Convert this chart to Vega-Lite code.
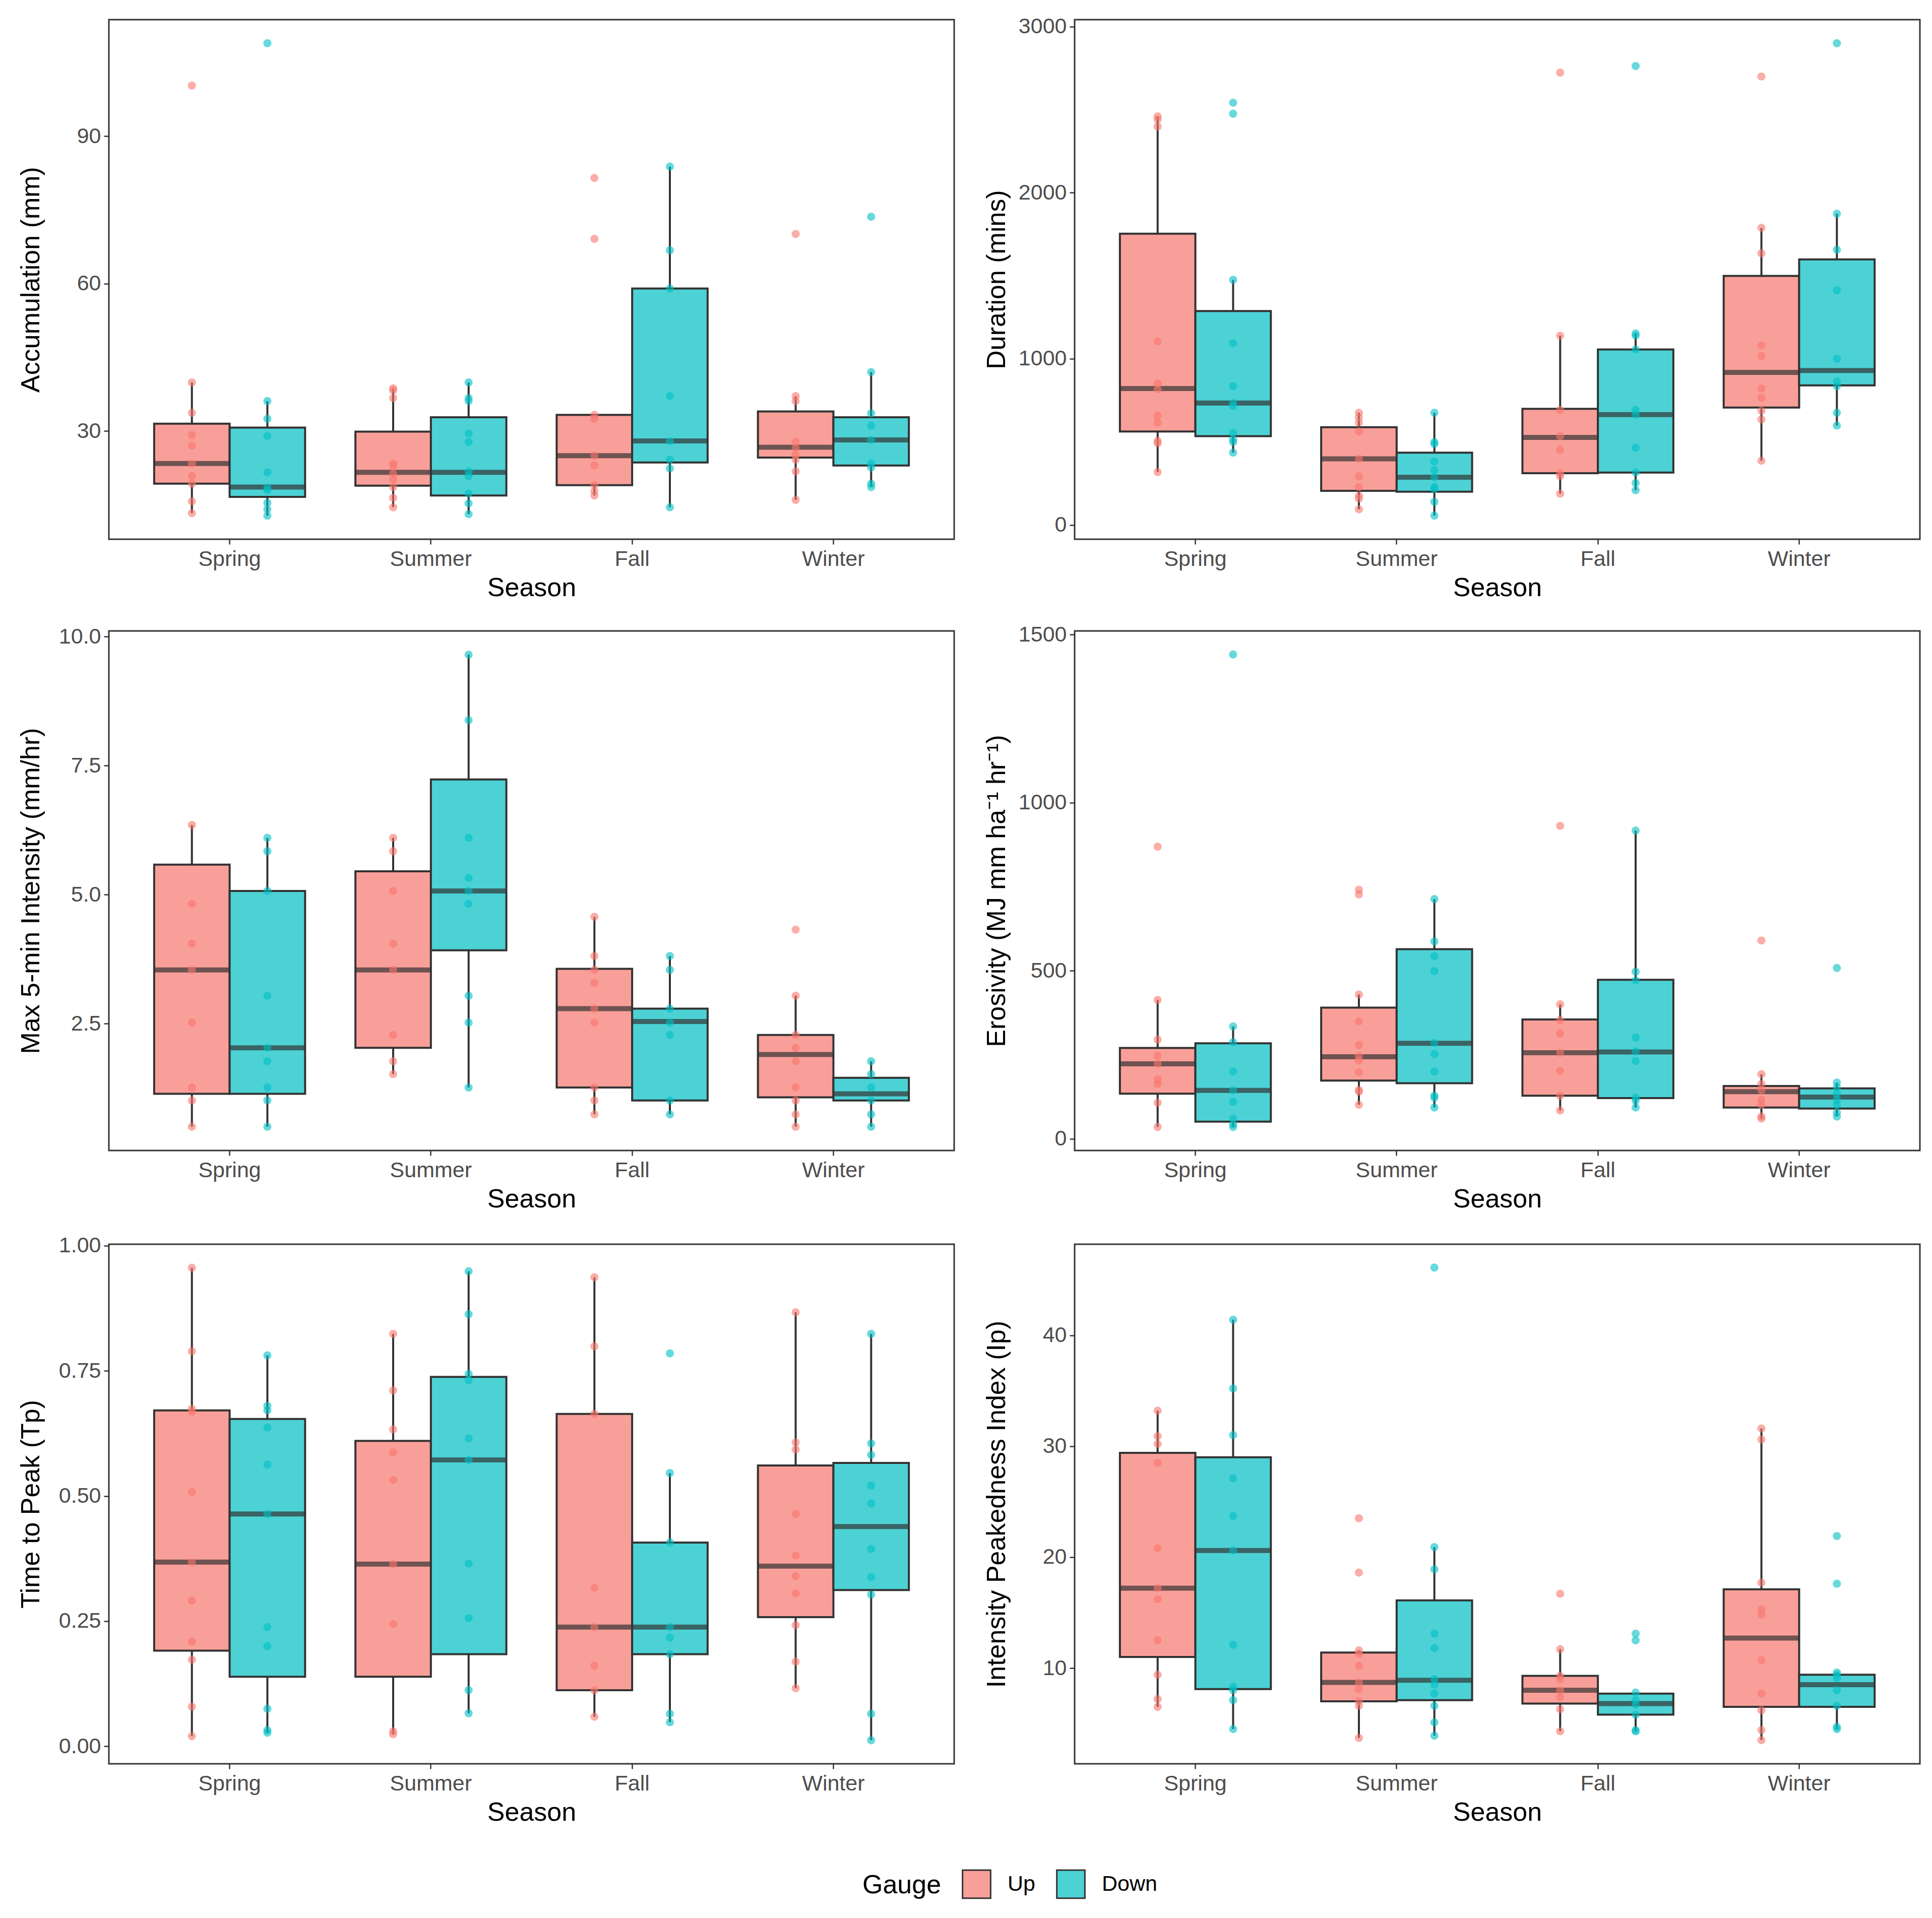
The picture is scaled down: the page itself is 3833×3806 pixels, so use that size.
{
"$schema": "https://vega.github.io/schema/vega-lite/v6.json",
"background": "white",
"padding": {"left": 33, "top": 30, "right": 27, "bottom": 20},
"datasets": {
"boxes": [
{"panel":"acc","Season":"Spring","Gauge":"Up","lower":13.3,"q1":19.3,"median":23.4,"q3":31.5,"upper":39.9},
{"panel":"acc","Season":"Spring","Gauge":"Down","lower":12.8,"q1":16.6,"median":18.6,"q3":30.7,"upper":36.1},
{"panel":"acc","Season":"Summer","Gauge":"Up","lower":14.5,"q1":18.9,"median":21.6,"q3":29.9,"upper":38.7},
{"panel":"acc","Season":"Summer","Gauge":"Down","lower":13.1,"q1":16.9,"median":21.6,"q3":32.8,"upper":39.9},
{"panel":"acc","Season":"Fall","Gauge":"Up","lower":16.9,"q1":19.0,"median":25.0,"q3":33.3,"upper":33.3},
{"panel":"acc","Season":"Fall","Gauge":"Down","lower":14.5,"q1":23.6,"median":28.0,"q3":59.0,"upper":83.8},
{"panel":"acc","Season":"Winter","Gauge":"Up","lower":16.0,"q1":24.6,"median":26.7,"q3":34.0,"upper":37.1},
{"panel":"acc","Season":"Winter","Gauge":"Down","lower":18.6,"q1":23.0,"median":28.2,"q3":32.8,"upper":42.0},
{"panel":"dur","Season":"Spring","Gauge":"Up","lower":318,"q1":562,"median":821,"q3":1753,"upper":2459},
{"panel":"dur","Season":"Spring","Gauge":"Down","lower":435,"q1":534,"median":734,"q3":1287,"upper":1475},
{"panel":"dur","Season":"Summer","Gauge":"Up","lower":94,"q1":205,"median":398,"q3":588,"upper":675},
{"panel":"dur","Season":"Summer","Gauge":"Down","lower":56,"q1":200,"median":287,"q3":435,"upper":675},
{"panel":"dur","Season":"Fall","Gauge":"Up","lower":188,"q1":311,"median":527,"q3":699,"upper":1139},
{"panel":"dur","Season":"Fall","Gauge":"Down","lower":209,"q1":315,"median":664,"q3":1056,"upper":1153},
{"panel":"dur","Season":"Winter","Gauge":"Up","lower":386,"q1":706,"median":918,"q3":1499,"upper":1788},
{"panel":"dur","Season":"Winter","Gauge":"Down","lower":598,"q1":840,"median":929,"q3":1598,"upper":1873},
{"panel":"int","Season":"Spring","Gauge":"Up","lower":0.50,"q1":1.14,"median":3.54,"q3":5.58,"upper":6.35},
{"panel":"int","Season":"Spring","Gauge":"Down","lower":0.50,"q1":1.14,"median":2.03,"q3":5.07,"upper":6.10},
{"panel":"int","Season":"Summer","Gauge":"Up","lower":1.52,"q1":2.03,"median":3.54,"q3":5.45,"upper":6.10},
{"panel":"int","Season":"Summer","Gauge":"Down","lower":1.26,"q1":3.92,"median":5.07,"q3":7.23,"upper":9.65},
{"panel":"int","Season":"Fall","Gauge":"Up","lower":0.74,"q1":1.26,"median":2.79,"q3":3.56,"upper":4.57},
{"panel":"int","Season":"Fall","Gauge":"Down","lower":0.74,"q1":1.01,"median":2.54,"q3":2.79,"upper":3.81},
{"panel":"int","Season":"Winter","Gauge":"Up","lower":0.50,"q1":1.07,"median":1.90,"q3":2.28,"upper":3.04},
{"panel":"int","Season":"Winter","Gauge":"Down","lower":0.50,"q1":1.01,"median":1.14,"q3":1.45,"upper":1.77},
{"panel":"ero","Season":"Spring","Gauge":"Up","lower":35,"q1":134,"median":223,"q3":270,"upper":413},
{"panel":"ero","Season":"Spring","Gauge":"Down","lower":35,"q1":51,"median":144,"q3":284,"upper":334},
{"panel":"ero","Season":"Summer","Gauge":"Up","lower":101,"q1":173,"median":244,"q3":390,"upper":429},
{"panel":"ero","Season":"Summer","Gauge":"Down","lower":93,"q1":165,"median":284,"q3":564,"upper":713},
{"panel":"ero","Season":"Fall","Gauge":"Up","lower":84,"q1":128,"median":256,"q3":355,"upper":400},
{"panel":"ero","Season":"Fall","Gauge":"Down","lower":93,"q1":121,"median":258,"q3":473,"upper":917},
{"panel":"ero","Season":"Winter","Gauge":"Up","lower":60,"q1":93,"median":140,"q3":157,"upper":192},
{"panel":"ero","Season":"Winter","Gauge":"Down","lower":66,"q1":90,"median":124,"q3":150,"upper":167},
{"panel":"tp","Season":"Spring","Gauge":"Up","lower":0.020,"q1":0.191,"median":0.368,"q3":0.671,"upper":0.956},
{"panel":"tp","Season":"Spring","Gauge":"Down","lower":0.027,"q1":0.139,"median":0.464,"q3":0.654,"upper":0.781},
{"panel":"tp","Season":"Summer","Gauge":"Up","lower":0.024,"q1":0.139,"median":0.364,"q3":0.610,"upper":0.824},
{"panel":"tp","Season":"Summer","Gauge":"Down","lower":0.066,"q1":0.184,"median":0.572,"q3":0.738,"upper":0.949},
{"panel":"tp","Season":"Fall","Gauge":"Up","lower":0.059,"q1":0.112,"median":0.238,"q3":0.664,"upper":0.937},
{"panel":"tp","Season":"Fall","Gauge":"Down","lower":0.048,"q1":0.184,"median":0.238,"q3":0.407,"upper":0.546},
{"panel":"tp","Season":"Winter","Gauge":"Up","lower":0.116,"q1":0.258,"median":0.360,"q3":0.561,"upper":0.867},
{"panel":"tp","Season":"Winter","Gauge":"Down","lower":0.012,"q1":0.312,"median":0.439,"q3":0.566,"upper":0.824},
{"panel":"ip","Season":"Spring","Gauge":"Up","lower":6.5,"q1":11.0,"median":17.2,"q3":29.4,"upper":33.2},
{"panel":"ip","Season":"Spring","Gauge":"Down","lower":4.5,"q1":8.1,"median":20.6,"q3":29.0,"upper":41.4},
{"panel":"ip","Season":"Summer","Gauge":"Up","lower":3.7,"q1":7.0,"median":8.7,"q3":11.4,"upper":11.6},
{"panel":"ip","Season":"Summer","Gauge":"Down","lower":3.9,"q1":7.1,"median":8.9,"q3":16.1,"upper":20.9},
{"panel":"ip","Season":"Fall","Gauge":"Up","lower":4.3,"q1":6.8,"median":8.0,"q3":9.3,"upper":11.7},
{"panel":"ip","Season":"Fall","Gauge":"Down","lower":4.3,"q1":5.8,"median":6.8,"q3":7.7,"upper":7.8},
{"panel":"ip","Season":"Winter","Gauge":"Up","lower":3.5,"q1":6.5,"median":12.7,"q3":17.1,"upper":31.6},
{"panel":"ip","Season":"Winter","Gauge":"Down","lower":4.5,"q1":6.5,"median":8.5,"q3":9.4,"upper":9.6}
],
"points": [
{"panel":"acc","Season":"Spring","Gauge":"Up","value":100.3},{"panel":"acc","Season":"Spring","Gauge":"Up","value":39.9},{"panel":"acc","Season":"Spring","Gauge":"Up","value":33.7},{"panel":"acc","Season":"Spring","Gauge":"Up","value":29.2},{"panel":"acc","Season":"Spring","Gauge":"Up","value":27.0},{"panel":"acc","Season":"Spring","Gauge":"Up","value":23.4},{"panel":"acc","Season":"Spring","Gauge":"Up","value":20.9},{"panel":"acc","Season":"Spring","Gauge":"Up","value":19.3},{"panel":"acc","Season":"Spring","Gauge":"Up","value":15.7},{"panel":"acc","Season":"Spring","Gauge":"Up","value":13.3},
{"panel":"acc","Season":"Spring","Gauge":"Down","value":108.9},{"panel":"acc","Season":"Spring","Gauge":"Down","value":36.1},{"panel":"acc","Season":"Spring","Gauge":"Down","value":32.5},{"panel":"acc","Season":"Spring","Gauge":"Down","value":29.0},{"panel":"acc","Season":"Spring","Gauge":"Down","value":21.6},{"panel":"acc","Season":"Spring","Gauge":"Down","value":18.5},{"panel":"acc","Season":"Spring","Gauge":"Down","value":18.0},{"panel":"acc","Season":"Spring","Gauge":"Down","value":15.4},{"panel":"acc","Season":"Spring","Gauge":"Down","value":14.1},{"panel":"acc","Season":"Spring","Gauge":"Down","value":12.8},
{"panel":"acc","Season":"Summer","Gauge":"Up","value":38.7},{"panel":"acc","Season":"Summer","Gauge":"Up","value":38.3},{"panel":"acc","Season":"Summer","Gauge":"Up","value":36.7},{"panel":"acc","Season":"Summer","Gauge":"Up","value":23.4},{"panel":"acc","Season":"Summer","Gauge":"Up","value":22.8},{"panel":"acc","Season":"Summer","Gauge":"Up","value":21.4},{"panel":"acc","Season":"Summer","Gauge":"Up","value":20.2},{"panel":"acc","Season":"Summer","Gauge":"Up","value":18.6},{"panel":"acc","Season":"Summer","Gauge":"Up","value":16.4},{"panel":"acc","Season":"Summer","Gauge":"Up","value":14.5},
{"panel":"acc","Season":"Summer","Gauge":"Down","value":39.9},{"panel":"acc","Season":"Summer","Gauge":"Down","value":36.7},{"panel":"acc","Season":"Summer","Gauge":"Down","value":36.1},{"panel":"acc","Season":"Summer","Gauge":"Down","value":29.5},{"panel":"acc","Season":"Summer","Gauge":"Down","value":27.8},{"panel":"acc","Season":"Summer","Gauge":"Down","value":21.8},{"panel":"acc","Season":"Summer","Gauge":"Down","value":20.8},{"panel":"acc","Season":"Summer","Gauge":"Down","value":17.3},{"panel":"acc","Season":"Summer","Gauge":"Down","value":15.3},{"panel":"acc","Season":"Summer","Gauge":"Down","value":13.1},
{"panel":"acc","Season":"Fall","Gauge":"Up","value":81.5},{"panel":"acc","Season":"Fall","Gauge":"Up","value":69.1},{"panel":"acc","Season":"Fall","Gauge":"Up","value":33.3},{"panel":"acc","Season":"Fall","Gauge":"Up","value":32.5},{"panel":"acc","Season":"Fall","Gauge":"Up","value":25.0},{"panel":"acc","Season":"Fall","Gauge":"Up","value":23.0},{"panel":"acc","Season":"Fall","Gauge":"Up","value":19.0},{"panel":"acc","Season":"Fall","Gauge":"Up","value":17.8},{"panel":"acc","Season":"Fall","Gauge":"Up","value":16.9},
{"panel":"acc","Season":"Fall","Gauge":"Down","value":83.8},{"panel":"acc","Season":"Fall","Gauge":"Down","value":66.8},{"panel":"acc","Season":"Fall","Gauge":"Down","value":59.0},{"panel":"acc","Season":"Fall","Gauge":"Down","value":37.1},{"panel":"acc","Season":"Fall","Gauge":"Down","value":27.9},{"panel":"acc","Season":"Fall","Gauge":"Down","value":24.2},{"panel":"acc","Season":"Fall","Gauge":"Down","value":22.4},{"panel":"acc","Season":"Fall","Gauge":"Down","value":14.5},
{"panel":"acc","Season":"Winter","Gauge":"Up","value":70.1},{"panel":"acc","Season":"Winter","Gauge":"Up","value":37.1},{"panel":"acc","Season":"Winter","Gauge":"Up","value":36.1},{"panel":"acc","Season":"Winter","Gauge":"Up","value":27.8},{"panel":"acc","Season":"Winter","Gauge":"Up","value":26.6},{"panel":"acc","Season":"Winter","Gauge":"Up","value":25.2},{"panel":"acc","Season":"Winter","Gauge":"Up","value":24.2},{"panel":"acc","Season":"Winter","Gauge":"Up","value":21.8},{"panel":"acc","Season":"Winter","Gauge":"Up","value":16.0},
{"panel":"acc","Season":"Winter","Gauge":"Down","value":73.6},{"panel":"acc","Season":"Winter","Gauge":"Down","value":42.0},{"panel":"acc","Season":"Winter","Gauge":"Down","value":33.6},{"panel":"acc","Season":"Winter","Gauge":"Down","value":31.1},{"panel":"acc","Season":"Winter","Gauge":"Down","value":28.2},{"panel":"acc","Season":"Winter","Gauge":"Down","value":23.4},{"panel":"acc","Season":"Winter","Gauge":"Down","value":22.6},{"panel":"acc","Season":"Winter","Gauge":"Down","value":19.3},{"panel":"acc","Season":"Winter","Gauge":"Down","value":18.6},
{"panel":"dur","Season":"Spring","Gauge":"Up","value":2459},{"panel":"dur","Season":"Spring","Gauge":"Up","value":2440},{"panel":"dur","Season":"Spring","Gauge":"Up","value":2398},{"panel":"dur","Season":"Spring","Gauge":"Up","value":1104},{"panel":"dur","Season":"Spring","Gauge":"Up","value":852},{"panel":"dur","Season":"Spring","Gauge":"Up","value":816},{"panel":"dur","Season":"Spring","Gauge":"Up","value":659},{"panel":"dur","Season":"Spring","Gauge":"Up","value":616},{"panel":"dur","Season":"Spring","Gauge":"Up","value":506},{"panel":"dur","Season":"Spring","Gauge":"Up","value":492},{"panel":"dur","Season":"Spring","Gauge":"Up","value":318},
{"panel":"dur","Season":"Spring","Gauge":"Down","value":2541},{"panel":"dur","Season":"Spring","Gauge":"Down","value":2475},{"panel":"dur","Season":"Spring","Gauge":"Down","value":1475},{"panel":"dur","Season":"Spring","Gauge":"Down","value":1094},{"panel":"dur","Season":"Spring","Gauge":"Down","value":835},{"panel":"dur","Season":"Spring","Gauge":"Down","value":734},{"panel":"dur","Season":"Spring","Gauge":"Down","value":715},{"panel":"dur","Season":"Spring","Gauge":"Down","value":553},{"panel":"dur","Season":"Spring","Gauge":"Down","value":515},{"panel":"dur","Season":"Spring","Gauge":"Down","value":499},{"panel":"dur","Season":"Spring","Gauge":"Down","value":435},
{"panel":"dur","Season":"Summer","Gauge":"Up","value":675},{"panel":"dur","Season":"Summer","Gauge":"Up","value":647},{"panel":"dur","Season":"Summer","Gauge":"Up","value":616},{"panel":"dur","Season":"Summer","Gauge":"Up","value":562},{"panel":"dur","Season":"Summer","Gauge":"Up","value":398},{"panel":"dur","Season":"Summer","Gauge":"Up","value":292},{"panel":"dur","Season":"Summer","Gauge":"Up","value":228},{"panel":"dur","Season":"Summer","Gauge":"Up","value":176},{"panel":"dur","Season":"Summer","Gauge":"Up","value":158},{"panel":"dur","Season":"Summer","Gauge":"Up","value":94},
{"panel":"dur","Season":"Summer","Gauge":"Down","value":675},{"panel":"dur","Season":"Summer","Gauge":"Down","value":499},{"panel":"dur","Season":"Summer","Gauge":"Down","value":487},{"panel":"dur","Season":"Summer","Gauge":"Down","value":381},{"panel":"dur","Season":"Summer","Gauge":"Down","value":329},{"panel":"dur","Season":"Summer","Gauge":"Down","value":287},{"panel":"dur","Season":"Summer","Gauge":"Down","value":228},{"panel":"dur","Season":"Summer","Gauge":"Down","value":216},{"panel":"dur","Season":"Summer","Gauge":"Down","value":139},{"panel":"dur","Season":"Summer","Gauge":"Down","value":56},
{"panel":"dur","Season":"Fall","Gauge":"Up","value":2722},{"panel":"dur","Season":"Fall","Gauge":"Up","value":1139},{"panel":"dur","Season":"Fall","Gauge":"Up","value":692},{"panel":"dur","Season":"Fall","Gauge":"Up","value":534},{"panel":"dur","Season":"Fall","Gauge":"Up","value":452},{"panel":"dur","Season":"Fall","Gauge":"Up","value":311},{"panel":"dur","Season":"Fall","Gauge":"Up","value":294},{"panel":"dur","Season":"Fall","Gauge":"Up","value":188},
{"panel":"dur","Season":"Fall","Gauge":"Down","value":2762},{"panel":"dur","Season":"Fall","Gauge":"Down","value":1153},{"panel":"dur","Season":"Fall","Gauge":"Down","value":1139},{"panel":"dur","Season":"Fall","Gauge":"Down","value":1056},{"panel":"dur","Season":"Fall","Gauge":"Down","value":692},{"panel":"dur","Season":"Fall","Gauge":"Down","value":664},{"panel":"dur","Season":"Fall","Gauge":"Down","value":464},{"panel":"dur","Season":"Fall","Gauge":"Down","value":315},{"panel":"dur","Season":"Fall","Gauge":"Down","value":252},{"panel":"dur","Season":"Fall","Gauge":"Down","value":209},
{"panel":"dur","Season":"Winter","Gauge":"Up","value":2699},{"panel":"dur","Season":"Winter","Gauge":"Up","value":1788},{"panel":"dur","Season":"Winter","Gauge":"Up","value":1635},{"panel":"dur","Season":"Winter","Gauge":"Up","value":1080},{"panel":"dur","Season":"Winter","Gauge":"Up","value":1016},{"panel":"dur","Season":"Winter","Gauge":"Up","value":821},{"panel":"dur","Season":"Winter","Gauge":"Up","value":765},{"panel":"dur","Season":"Winter","Gauge":"Up","value":687},{"panel":"dur","Season":"Winter","Gauge":"Up","value":635},{"panel":"dur","Season":"Winter","Gauge":"Up","value":386},
{"panel":"dur","Season":"Winter","Gauge":"Down","value":2899},{"panel":"dur","Season":"Winter","Gauge":"Down","value":1873},{"panel":"dur","Season":"Winter","Gauge":"Down","value":1656},{"panel":"dur","Season":"Winter","Gauge":"Down","value":1412},{"panel":"dur","Season":"Winter","Gauge":"Down","value":1000},{"panel":"dur","Season":"Winter","Gauge":"Down","value":864},{"panel":"dur","Season":"Winter","Gauge":"Down","value":835},{"panel":"dur","Season":"Winter","Gauge":"Down","value":675},{"panel":"dur","Season":"Winter","Gauge":"Down","value":598},
{"panel":"int","Season":"Spring","Gauge":"Up","value":6.35},{"panel":"int","Season":"Spring","Gauge":"Up","value":4.82},{"panel":"int","Season":"Spring","Gauge":"Up","value":4.05},{"panel":"int","Season":"Spring","Gauge":"Up","value":3.54},{"panel":"int","Season":"Spring","Gauge":"Up","value":2.52},{"panel":"int","Season":"Spring","Gauge":"Up","value":1.26},{"panel":"int","Season":"Spring","Gauge":"Up","value":1.01},{"panel":"int","Season":"Spring","Gauge":"Up","value":0.50},
{"panel":"int","Season":"Spring","Gauge":"Down","value":6.10},{"panel":"int","Season":"Spring","Gauge":"Down","value":5.84},{"panel":"int","Season":"Spring","Gauge":"Down","value":5.07},{"panel":"int","Season":"Spring","Gauge":"Down","value":3.04},{"panel":"int","Season":"Spring","Gauge":"Down","value":2.03},{"panel":"int","Season":"Spring","Gauge":"Down","value":1.77},{"panel":"int","Season":"Spring","Gauge":"Down","value":1.26},{"panel":"int","Season":"Spring","Gauge":"Down","value":1.01},{"panel":"int","Season":"Spring","Gauge":"Down","value":0.50},
{"panel":"int","Season":"Summer","Gauge":"Up","value":6.10},{"panel":"int","Season":"Summer","Gauge":"Up","value":5.84},{"panel":"int","Season":"Summer","Gauge":"Up","value":5.07},{"panel":"int","Season":"Summer","Gauge":"Up","value":4.05},{"panel":"int","Season":"Summer","Gauge":"Up","value":3.54},{"panel":"int","Season":"Summer","Gauge":"Up","value":2.28},{"panel":"int","Season":"Summer","Gauge":"Up","value":1.77},{"panel":"int","Season":"Summer","Gauge":"Up","value":1.52},
{"panel":"int","Season":"Summer","Gauge":"Down","value":9.65},{"panel":"int","Season":"Summer","Gauge":"Down","value":8.38},{"panel":"int","Season":"Summer","Gauge":"Down","value":6.10},{"panel":"int","Season":"Summer","Gauge":"Down","value":5.32},{"panel":"int","Season":"Summer","Gauge":"Down","value":5.07},{"panel":"int","Season":"Summer","Gauge":"Down","value":4.82},{"panel":"int","Season":"Summer","Gauge":"Down","value":3.04},{"panel":"int","Season":"Summer","Gauge":"Down","value":2.52},{"panel":"int","Season":"Summer","Gauge":"Down","value":1.26},
{"panel":"int","Season":"Fall","Gauge":"Up","value":4.57},{"panel":"int","Season":"Fall","Gauge":"Up","value":3.81},{"panel":"int","Season":"Fall","Gauge":"Up","value":3.54},{"panel":"int","Season":"Fall","Gauge":"Up","value":3.29},{"panel":"int","Season":"Fall","Gauge":"Up","value":2.79},{"panel":"int","Season":"Fall","Gauge":"Up","value":2.52},{"panel":"int","Season":"Fall","Gauge":"Up","value":1.26},{"panel":"int","Season":"Fall","Gauge":"Up","value":1.01},{"panel":"int","Season":"Fall","Gauge":"Up","value":0.74},
{"panel":"int","Season":"Fall","Gauge":"Down","value":3.81},{"panel":"int","Season":"Fall","Gauge":"Down","value":3.54},{"panel":"int","Season":"Fall","Gauge":"Down","value":2.79},{"panel":"int","Season":"Fall","Gauge":"Down","value":2.52},{"panel":"int","Season":"Fall","Gauge":"Down","value":2.28},{"panel":"int","Season":"Fall","Gauge":"Down","value":1.01},{"panel":"int","Season":"Fall","Gauge":"Down","value":0.74},
{"panel":"int","Season":"Winter","Gauge":"Up","value":4.32},{"panel":"int","Season":"Winter","Gauge":"Up","value":3.04},{"panel":"int","Season":"Winter","Gauge":"Up","value":2.28},{"panel":"int","Season":"Winter","Gauge":"Up","value":2.03},{"panel":"int","Season":"Winter","Gauge":"Up","value":1.77},{"panel":"int","Season":"Winter","Gauge":"Up","value":1.26},{"panel":"int","Season":"Winter","Gauge":"Up","value":1.01},{"panel":"int","Season":"Winter","Gauge":"Up","value":0.74},{"panel":"int","Season":"Winter","Gauge":"Up","value":0.50},
{"panel":"int","Season":"Winter","Gauge":"Down","value":1.77},{"panel":"int","Season":"Winter","Gauge":"Down","value":1.52},{"panel":"int","Season":"Winter","Gauge":"Down","value":1.26},{"panel":"int","Season":"Winter","Gauge":"Down","value":1.01},{"panel":"int","Season":"Winter","Gauge":"Down","value":0.74},{"panel":"int","Season":"Winter","Gauge":"Down","value":0.50},
{"panel":"ero","Season":"Spring","Gauge":"Up","value":869},{"panel":"ero","Season":"Spring","Gauge":"Up","value":413},{"panel":"ero","Season":"Spring","Gauge":"Up","value":295},{"panel":"ero","Season":"Spring","Gauge":"Up","value":247},{"panel":"ero","Season":"Spring","Gauge":"Up","value":223},{"panel":"ero","Season":"Spring","Gauge":"Up","value":177},{"panel":"ero","Season":"Spring","Gauge":"Up","value":163},{"panel":"ero","Season":"Spring","Gauge":"Up","value":107},{"panel":"ero","Season":"Spring","Gauge":"Up","value":35},
{"panel":"ero","Season":"Spring","Gauge":"Down","value":1441},{"panel":"ero","Season":"Spring","Gauge":"Down","value":334},{"panel":"ero","Season":"Spring","Gauge":"Down","value":287},{"panel":"ero","Season":"Spring","Gauge":"Down","value":200},{"panel":"ero","Season":"Spring","Gauge":"Down","value":144},{"panel":"ero","Season":"Spring","Gauge":"Down","value":110},{"panel":"ero","Season":"Spring","Gauge":"Down","value":60},{"panel":"ero","Season":"Spring","Gauge":"Down","value":43},{"panel":"ero","Season":"Spring","Gauge":"Down","value":35},
{"panel":"ero","Season":"Summer","Gauge":"Up","value":741},{"panel":"ero","Season":"Summer","Gauge":"Up","value":727},{"panel":"ero","Season":"Summer","Gauge":"Up","value":429},{"panel":"ero","Season":"Summer","Gauge":"Up","value":349},{"panel":"ero","Season":"Summer","Gauge":"Up","value":279},{"panel":"ero","Season":"Summer","Gauge":"Up","value":247},{"panel":"ero","Season":"Summer","Gauge":"Up","value":233},{"panel":"ero","Season":"Summer","Gauge":"Up","value":198},{"panel":"ero","Season":"Summer","Gauge":"Up","value":145},{"panel":"ero","Season":"Summer","Gauge":"Up","value":140},{"panel":"ero","Season":"Summer","Gauge":"Up","value":101},
{"panel":"ero","Season":"Summer","Gauge":"Down","value":713},{"panel":"ero","Season":"Summer","Gauge":"Down","value":587},{"panel":"ero","Season":"Summer","Gauge":"Down","value":543},{"panel":"ero","Season":"Summer","Gauge":"Down","value":499},{"panel":"ero","Season":"Summer","Gauge":"Down","value":285},{"panel":"ero","Season":"Summer","Gauge":"Down","value":252},{"panel":"ero","Season":"Summer","Gauge":"Down","value":200},{"panel":"ero","Season":"Summer","Gauge":"Down","value":128},{"panel":"ero","Season":"Summer","Gauge":"Down","value":122},{"panel":"ero","Season":"Summer","Gauge":"Down","value":93},
{"panel":"ero","Season":"Fall","Gauge":"Up","value":931},{"panel":"ero","Season":"Fall","Gauge":"Up","value":400},{"panel":"ero","Season":"Fall","Gauge":"Up","value":353},{"panel":"ero","Season":"Fall","Gauge":"Up","value":313},{"panel":"ero","Season":"Fall","Gauge":"Up","value":256},{"panel":"ero","Season":"Fall","Gauge":"Up","value":202},{"panel":"ero","Season":"Fall","Gauge":"Up","value":128},{"panel":"ero","Season":"Fall","Gauge":"Up","value":84},
{"panel":"ero","Season":"Fall","Gauge":"Down","value":917},{"panel":"ero","Season":"Fall","Gauge":"Down","value":497},{"panel":"ero","Season":"Fall","Gauge":"Down","value":471},{"panel":"ero","Season":"Fall","Gauge":"Down","value":301},{"panel":"ero","Season":"Fall","Gauge":"Down","value":260},{"panel":"ero","Season":"Fall","Gauge":"Down","value":231},{"panel":"ero","Season":"Fall","Gauge":"Down","value":122},{"panel":"ero","Season":"Fall","Gauge":"Down","value":113},{"panel":"ero","Season":"Fall","Gauge":"Down","value":93},
{"panel":"ero","Season":"Winter","Gauge":"Up","value":590},{"panel":"ero","Season":"Winter","Gauge":"Up","value":192},{"panel":"ero","Season":"Winter","Gauge":"Up","value":163},{"panel":"ero","Season":"Winter","Gauge":"Up","value":144},{"panel":"ero","Season":"Winter","Gauge":"Up","value":116},{"panel":"ero","Season":"Winter","Gauge":"Up","value":101},{"panel":"ero","Season":"Winter","Gauge":"Up","value":66},{"panel":"ero","Season":"Winter","Gauge":"Up","value":60},
{"panel":"ero","Season":"Winter","Gauge":"Down","value":508},{"panel":"ero","Season":"Winter","Gauge":"Down","value":167},{"panel":"ero","Season":"Winter","Gauge":"Down","value":153},{"panel":"ero","Season":"Winter","Gauge":"Down","value":134},{"panel":"ero","Season":"Winter","Gauge":"Down","value":116},{"panel":"ero","Season":"Winter","Gauge":"Down","value":101},{"panel":"ero","Season":"Winter","Gauge":"Down","value":78},{"panel":"ero","Season":"Winter","Gauge":"Down","value":66},
{"panel":"tp","Season":"Spring","Gauge":"Up","value":0.956},{"panel":"tp","Season":"Spring","Gauge":"Up","value":0.789},{"panel":"tp","Season":"Spring","Gauge":"Up","value":0.674},{"panel":"tp","Season":"Spring","Gauge":"Up","value":0.668},{"panel":"tp","Season":"Spring","Gauge":"Up","value":0.508},{"panel":"tp","Season":"Spring","Gauge":"Up","value":0.368},{"panel":"tp","Season":"Spring","Gauge":"Up","value":0.291},{"panel":"tp","Season":"Spring","Gauge":"Up","value":0.209},{"panel":"tp","Season":"Spring","Gauge":"Up","value":0.173},{"panel":"tp","Season":"Spring","Gauge":"Up","value":0.079},{"panel":"tp","Season":"Spring","Gauge":"Up","value":0.020},
{"panel":"tp","Season":"Spring","Gauge":"Down","value":0.781},{"panel":"tp","Season":"Spring","Gauge":"Down","value":0.680},{"panel":"tp","Season":"Spring","Gauge":"Down","value":0.671},{"panel":"tp","Season":"Spring","Gauge":"Down","value":0.637},{"panel":"tp","Season":"Spring","Gauge":"Down","value":0.563},{"panel":"tp","Season":"Spring","Gauge":"Down","value":0.464},{"panel":"tp","Season":"Spring","Gauge":"Down","value":0.238},{"panel":"tp","Season":"Spring","Gauge":"Down","value":0.200},{"panel":"tp","Season":"Spring","Gauge":"Down","value":0.075},{"panel":"tp","Season":"Spring","Gauge":"Down","value":0.032},{"panel":"tp","Season":"Spring","Gauge":"Down","value":0.027},
{"panel":"tp","Season":"Summer","Gauge":"Up","value":0.824},{"panel":"tp","Season":"Summer","Gauge":"Up","value":0.711},{"panel":"tp","Season":"Summer","Gauge":"Up","value":0.633},{"panel":"tp","Season":"Summer","Gauge":"Up","value":0.587},{"panel":"tp","Season":"Summer","Gauge":"Up","value":0.532},{"panel":"tp","Season":"Summer","Gauge":"Up","value":0.364},{"panel":"tp","Season":"Summer","Gauge":"Up","value":0.244},{"panel":"tp","Season":"Summer","Gauge":"Up","value":0.030},{"panel":"tp","Season":"Summer","Gauge":"Up","value":0.024},
{"panel":"tp","Season":"Summer","Gauge":"Down","value":0.949},{"panel":"tp","Season":"Summer","Gauge":"Down","value":0.863},{"panel":"tp","Season":"Summer","Gauge":"Down","value":0.744},{"panel":"tp","Season":"Summer","Gauge":"Down","value":0.731},{"panel":"tp","Season":"Summer","Gauge":"Down","value":0.615},{"panel":"tp","Season":"Summer","Gauge":"Down","value":0.572},{"panel":"tp","Season":"Summer","Gauge":"Down","value":0.365},{"panel":"tp","Season":"Summer","Gauge":"Down","value":0.256},{"panel":"tp","Season":"Summer","Gauge":"Down","value":0.112},{"panel":"tp","Season":"Summer","Gauge":"Down","value":0.066},
{"panel":"tp","Season":"Fall","Gauge":"Up","value":0.937},{"panel":"tp","Season":"Fall","Gauge":"Up","value":0.799},{"panel":"tp","Season":"Fall","Gauge":"Up","value":0.664},{"panel":"tp","Season":"Fall","Gauge":"Up","value":0.317},{"panel":"tp","Season":"Fall","Gauge":"Up","value":0.238},{"panel":"tp","Season":"Fall","Gauge":"Up","value":0.161},{"panel":"tp","Season":"Fall","Gauge":"Up","value":0.112},{"panel":"tp","Season":"Fall","Gauge":"Up","value":0.059},
{"panel":"tp","Season":"Fall","Gauge":"Down","value":0.785},{"panel":"tp","Season":"Fall","Gauge":"Down","value":0.546},{"panel":"tp","Season":"Fall","Gauge":"Down","value":0.407},{"panel":"tp","Season":"Fall","Gauge":"Down","value":0.238},{"panel":"tp","Season":"Fall","Gauge":"Down","value":0.217},{"panel":"tp","Season":"Fall","Gauge":"Down","value":0.184},{"panel":"tp","Season":"Fall","Gauge":"Down","value":0.065},{"panel":"tp","Season":"Fall","Gauge":"Down","value":0.048},
{"panel":"tp","Season":"Winter","Gauge":"Up","value":0.867},{"panel":"tp","Season":"Winter","Gauge":"Up","value":0.607},{"panel":"tp","Season":"Winter","Gauge":"Up","value":0.593},{"panel":"tp","Season":"Winter","Gauge":"Up","value":0.464},{"panel":"tp","Season":"Winter","Gauge":"Up","value":0.381},{"panel":"tp","Season":"Winter","Gauge":"Up","value":0.340},{"panel":"tp","Season":"Winter","Gauge":"Up","value":0.305},{"panel":"tp","Season":"Winter","Gauge":"Up","value":0.242},{"panel":"tp","Season":"Winter","Gauge":"Up","value":0.169},{"panel":"tp","Season":"Winter","Gauge":"Up","value":0.116},
{"panel":"tp","Season":"Winter","Gauge":"Down","value":0.824},{"panel":"tp","Season":"Winter","Gauge":"Down","value":0.605},{"panel":"tp","Season":"Winter","Gauge":"Down","value":0.582},{"panel":"tp","Season":"Winter","Gauge":"Down","value":0.521},{"panel":"tp","Season":"Winter","Gauge":"Down","value":0.485},{"panel":"tp","Season":"Winter","Gauge":"Down","value":0.394},{"panel":"tp","Season":"Winter","Gauge":"Down","value":0.338},{"panel":"tp","Season":"Winter","Gauge":"Down","value":0.303},{"panel":"tp","Season":"Winter","Gauge":"Down","value":0.065},{"panel":"tp","Season":"Winter","Gauge":"Down","value":0.012},
{"panel":"ip","Season":"Spring","Gauge":"Up","value":33.2},{"panel":"ip","Season":"Spring","Gauge":"Up","value":30.9},{"panel":"ip","Season":"Spring","Gauge":"Up","value":30.2},{"panel":"ip","Season":"Spring","Gauge":"Up","value":28.5},{"panel":"ip","Season":"Spring","Gauge":"Up","value":20.8},{"panel":"ip","Season":"Spring","Gauge":"Up","value":17.2},{"panel":"ip","Season":"Spring","Gauge":"Up","value":16.2},{"panel":"ip","Season":"Spring","Gauge":"Up","value":12.5},{"panel":"ip","Season":"Spring","Gauge":"Up","value":9.4},{"panel":"ip","Season":"Spring","Gauge":"Up","value":7.2},{"panel":"ip","Season":"Spring","Gauge":"Up","value":6.5},
{"panel":"ip","Season":"Spring","Gauge":"Down","value":41.4},{"panel":"ip","Season":"Spring","Gauge":"Down","value":35.2},{"panel":"ip","Season":"Spring","Gauge":"Down","value":31.0},{"panel":"ip","Season":"Spring","Gauge":"Down","value":27.1},{"panel":"ip","Season":"Spring","Gauge":"Down","value":23.7},{"panel":"ip","Season":"Spring","Gauge":"Down","value":20.6},{"panel":"ip","Season":"Spring","Gauge":"Down","value":12.1},{"panel":"ip","Season":"Spring","Gauge":"Down","value":8.3},{"panel":"ip","Season":"Spring","Gauge":"Down","value":8.0},{"panel":"ip","Season":"Spring","Gauge":"Down","value":7.1},{"panel":"ip","Season":"Spring","Gauge":"Down","value":4.5},
{"panel":"ip","Season":"Summer","Gauge":"Up","value":23.5},{"panel":"ip","Season":"Summer","Gauge":"Up","value":18.6},{"panel":"ip","Season":"Summer","Gauge":"Up","value":11.6},{"panel":"ip","Season":"Summer","Gauge":"Up","value":11.3},{"panel":"ip","Season":"Summer","Gauge":"Up","value":10.2},{"panel":"ip","Season":"Summer","Gauge":"Up","value":8.7},{"panel":"ip","Season":"Summer","Gauge":"Up","value":8.1},{"panel":"ip","Season":"Summer","Gauge":"Up","value":7.0},{"panel":"ip","Season":"Summer","Gauge":"Up","value":6.6},{"panel":"ip","Season":"Summer","Gauge":"Up","value":3.7},
{"panel":"ip","Season":"Summer","Gauge":"Down","value":46.1},{"panel":"ip","Season":"Summer","Gauge":"Down","value":20.9},{"panel":"ip","Season":"Summer","Gauge":"Down","value":18.9},{"panel":"ip","Season":"Summer","Gauge":"Down","value":13.1},{"panel":"ip","Season":"Summer","Gauge":"Down","value":11.8},{"panel":"ip","Season":"Summer","Gauge":"Down","value":9.0},{"panel":"ip","Season":"Summer","Gauge":"Down","value":8.5},{"panel":"ip","Season":"Summer","Gauge":"Down","value":7.7},{"panel":"ip","Season":"Summer","Gauge":"Down","value":6.6},{"panel":"ip","Season":"Summer","Gauge":"Down","value":5.1},{"panel":"ip","Season":"Summer","Gauge":"Down","value":3.9},
{"panel":"ip","Season":"Fall","Gauge":"Up","value":16.7},{"panel":"ip","Season":"Fall","Gauge":"Up","value":11.7},{"panel":"ip","Season":"Fall","Gauge":"Up","value":9.3},{"panel":"ip","Season":"Fall","Gauge":"Up","value":9.0},{"panel":"ip","Season":"Fall","Gauge":"Up","value":8.0},{"panel":"ip","Season":"Fall","Gauge":"Up","value":7.4},{"panel":"ip","Season":"Fall","Gauge":"Up","value":6.3},{"panel":"ip","Season":"Fall","Gauge":"Up","value":4.3},
{"panel":"ip","Season":"Fall","Gauge":"Down","value":13.1},{"panel":"ip","Season":"Fall","Gauge":"Down","value":12.5},{"panel":"ip","Season":"Fall","Gauge":"Down","value":7.8},{"panel":"ip","Season":"Fall","Gauge":"Down","value":7.1},{"panel":"ip","Season":"Fall","Gauge":"Down","value":6.7},{"panel":"ip","Season":"Fall","Gauge":"Down","value":5.8},{"panel":"ip","Season":"Fall","Gauge":"Down","value":4.4},{"panel":"ip","Season":"Fall","Gauge":"Down","value":4.3},
{"panel":"ip","Season":"Winter","Gauge":"Up","value":31.6},{"panel":"ip","Season":"Winter","Gauge":"Up","value":30.6},{"panel":"ip","Season":"Winter","Gauge":"Up","value":17.7},{"panel":"ip","Season":"Winter","Gauge":"Up","value":15.3},{"panel":"ip","Season":"Winter","Gauge":"Up","value":14.8},{"panel":"ip","Season":"Winter","Gauge":"Up","value":10.7},{"panel":"ip","Season":"Winter","Gauge":"Up","value":7.7},{"panel":"ip","Season":"Winter","Gauge":"Up","value":6.2},{"panel":"ip","Season":"Winter","Gauge":"Up","value":4.4},{"panel":"ip","Season":"Winter","Gauge":"Up","value":3.5},
{"panel":"ip","Season":"Winter","Gauge":"Down","value":21.9},{"panel":"ip","Season":"Winter","Gauge":"Down","value":17.6},{"panel":"ip","Season":"Winter","Gauge":"Down","value":9.6},{"panel":"ip","Season":"Winter","Gauge":"Down","value":9.4},{"panel":"ip","Season":"Winter","Gauge":"Down","value":9.1},{"panel":"ip","Season":"Winter","Gauge":"Down","value":8.0},{"panel":"ip","Season":"Winter","Gauge":"Down","value":6.6},{"panel":"ip","Season":"Winter","Gauge":"Down","value":4.7},{"panel":"ip","Season":"Winter","Gauge":"Down","value":4.5}
]
},
"columns": 2,
"spacing": {"row": 42, "column": 54},
"concat": [
{
"width": 1677, "height": 1031,
"encoding": {
"x": {"field": "Season", "type": "nominal", "sort": ["Spring","Summer","Fall","Winter"], "scale": {"paddingInner": 0.25, "paddingOuter": 0.225}, "axis": {"title": "Season", "labelAngle": 0}},
"xOffset": {"field": "Gauge", "type": "nominal", "sort": ["Up","Down"], "scale": {"paddingInner": 0, "paddingOuter": 0}}
},
"layer": [
{"data": {"name": "boxes"}, "transform": [{"filter": "datum.panel === 'acc'"}], "mark": {"type": "rule", "color": "#333333", "strokeWidth": 4},
 "encoding": {"y": {"field": "lower", "type": "quantitative", "scale": {"domain": [8.0, 113.7], "nice": false, "zero": false}, "axis": {"title": "Accumulation (mm)", "values": [30,60,90], "format": "d"}}, "y2": {"field": "upper"}}},
{"data": {"name": "boxes"}, "transform": [{"filter": "datum.panel === 'acc'"}], "mark": {"type": "bar", "stroke": "#333333", "strokeWidth": 4},
 "encoding": {"y": {"field": "q1", "type": "quantitative", "scale": {"domain": [8.0, 113.7], "nice": false, "zero": false}, "axis": {"title": "Accumulation (mm)", "values": [30,60,90], "format": "d"}}, "y2": {"field": "q3"},
  "color": {"field": "Gauge", "type": "nominal", "scale": {"domain": ["Up","Down"], "range": ["#F99F99","#4CD2D5"]}, "legend": {"title": "Gauge"}}}},
{"data": {"name": "boxes"}, "transform": [{"filter": "datum.panel === 'acc'"}], "mark": {"type": "tick", "color": "#333333", "thickness": 10, "size": 150, "orient": "horizontal"},
 "encoding": {"y": {"field": "median", "type": "quantitative", "scale": {"domain": [8.0, 113.7], "nice": false, "zero": false}, "axis": {"title": "Accumulation (mm)", "values": [30,60,90], "format": "d"}}}},
{"data": {"name": "points"}, "transform": [{"filter": "datum.panel === 'acc'"}], "mark": {"type": "point", "filled": true, "size": 260, "opacity": 0.6},
 "encoding": {"y": {"field": "value", "type": "quantitative", "scale": {"domain": [8.0, 113.7], "nice": false, "zero": false}, "axis": {"title": "Accumulation (mm)", "values": [30,60,90], "format": "d"}},
  "fill": {"field": "Gauge", "type": "nominal", "scale": {"domain": ["Up","Down"], "range": ["#F8766D","#00BFC4"]}, "legend": null}}}
]
},
{
"width": 1677, "height": 1031,
"encoding": {
"x": {"field": "Season", "type": "nominal", "sort": ["Spring","Summer","Fall","Winter"], "scale": {"paddingInner": 0.25, "paddingOuter": 0.225}, "axis": {"title": "Season", "labelAngle": 0}},
"xOffset": {"field": "Gauge", "type": "nominal", "sort": ["Up","Down"], "scale": {"paddingInner": 0, "paddingOuter": 0}}
},
"layer": [
{"data": {"name": "boxes"}, "transform": [{"filter": "datum.panel === 'dur'"}], "mark": {"type": "rule", "color": "#333333", "strokeWidth": 4},
 "encoding": {"y": {"field": "lower", "type": "quantitative", "scale": {"domain": [-86, 3041], "nice": false, "zero": false}, "axis": {"title": "Duration (mins)", "values": [0,1000,2000,3000], "format": "d"}}, "y2": {"field": "upper"}}},
{"data": {"name": "boxes"}, "transform": [{"filter": "datum.panel === 'dur'"}], "mark": {"type": "bar", "stroke": "#333333", "strokeWidth": 4},
 "encoding": {"y": {"field": "q1", "type": "quantitative", "scale": {"domain": [-86, 3041], "nice": false, "zero": false}, "axis": {"title": "Duration (mins)", "values": [0,1000,2000,3000], "format": "d"}}, "y2": {"field": "q3"},
  "color": {"field": "Gauge", "type": "nominal", "scale": {"domain": ["Up","Down"], "range": ["#F99F99","#4CD2D5"]}, "legend": {"title": "Gauge"}}}},
{"data": {"name": "boxes"}, "transform": [{"filter": "datum.panel === 'dur'"}], "mark": {"type": "tick", "color": "#333333", "thickness": 10, "size": 150, "orient": "horizontal"},
 "encoding": {"y": {"field": "median", "type": "quantitative", "scale": {"domain": [-86, 3041], "nice": false, "zero": false}, "axis": {"title": "Duration (mins)", "values": [0,1000,2000,3000], "format": "d"}}}},
{"data": {"name": "points"}, "transform": [{"filter": "datum.panel === 'dur'"}], "mark": {"type": "point", "filled": true, "size": 260, "opacity": 0.6},
 "encoding": {"y": {"field": "value", "type": "quantitative", "scale": {"domain": [-86, 3041], "nice": false, "zero": false}, "axis": {"title": "Duration (mins)", "values": [0,1000,2000,3000], "format": "d"}},
  "fill": {"field": "Gauge", "type": "nominal", "scale": {"domain": ["Up","Down"], "range": ["#F8766D","#00BFC4"]}, "legend": null}}}
]
},
{
"width": 1677, "height": 1031,
"encoding": {
"x": {"field": "Season", "type": "nominal", "sort": ["Spring","Summer","Fall","Winter"], "scale": {"paddingInner": 0.25, "paddingOuter": 0.225}, "axis": {"title": "Season", "labelAngle": 0}},
"xOffset": {"field": "Gauge", "type": "nominal", "sort": ["Up","Down"], "scale": {"paddingInner": 0, "paddingOuter": 0}}
},
"layer": [
{"data": {"name": "boxes"}, "transform": [{"filter": "datum.panel === 'int'"}], "mark": {"type": "rule", "color": "#333333", "strokeWidth": 4},
 "encoding": {"y": {"field": "lower", "type": "quantitative", "scale": {"domain": [0.04, 10.11], "nice": false, "zero": false}, "axis": {"title": "Max 5-min Intensity (mm/hr)", "values": [2.5,5,7.5,10], "format": ".1f"}}, "y2": {"field": "upper"}}},
{"data": {"name": "boxes"}, "transform": [{"filter": "datum.panel === 'int'"}], "mark": {"type": "bar", "stroke": "#333333", "strokeWidth": 4},
 "encoding": {"y": {"field": "q1", "type": "quantitative", "scale": {"domain": [0.04, 10.11], "nice": false, "zero": false}, "axis": {"title": "Max 5-min Intensity (mm/hr)", "values": [2.5,5,7.5,10], "format": ".1f"}}, "y2": {"field": "q3"},
  "color": {"field": "Gauge", "type": "nominal", "scale": {"domain": ["Up","Down"], "range": ["#F99F99","#4CD2D5"]}, "legend": {"title": "Gauge"}}}},
{"data": {"name": "boxes"}, "transform": [{"filter": "datum.panel === 'int'"}], "mark": {"type": "tick", "color": "#333333", "thickness": 10, "size": 150, "orient": "horizontal"},
 "encoding": {"y": {"field": "median", "type": "quantitative", "scale": {"domain": [0.04, 10.11], "nice": false, "zero": false}, "axis": {"title": "Max 5-min Intensity (mm/hr)", "values": [2.5,5,7.5,10], "format": ".1f"}}}},
{"data": {"name": "points"}, "transform": [{"filter": "datum.panel === 'int'"}], "mark": {"type": "point", "filled": true, "size": 260, "opacity": 0.6},
 "encoding": {"y": {"field": "value", "type": "quantitative", "scale": {"domain": [0.04, 10.11], "nice": false, "zero": false}, "axis": {"title": "Max 5-min Intensity (mm/hr)", "values": [2.5,5,7.5,10], "format": ".1f"}},
  "fill": {"field": "Gauge", "type": "nominal", "scale": {"domain": ["Up","Down"], "range": ["#F8766D","#00BFC4"]}, "legend": null}}}
]
},
{
"width": 1677, "height": 1031,
"encoding": {
"x": {"field": "Season", "type": "nominal", "sort": ["Spring","Summer","Fall","Winter"], "scale": {"paddingInner": 0.25, "paddingOuter": 0.225}, "axis": {"title": "Season", "labelAngle": 0}},
"xOffset": {"field": "Gauge", "type": "nominal", "sort": ["Up","Down"], "scale": {"paddingInner": 0, "paddingOuter": 0}}
},
"layer": [
{"data": {"name": "boxes"}, "transform": [{"filter": "datum.panel === 'ero'"}], "mark": {"type": "rule", "color": "#333333", "strokeWidth": 4},
 "encoding": {"y": {"field": "lower", "type": "quantitative", "scale": {"domain": [-35, 1511], "nice": false, "zero": false}, "axis": {"title": "Erosivity (MJ mm ha⁻¹ hr⁻¹)", "values": [0,500,1000,1500], "format": "d"}}, "y2": {"field": "upper"}}},
{"data": {"name": "boxes"}, "transform": [{"filter": "datum.panel === 'ero'"}], "mark": {"type": "bar", "stroke": "#333333", "strokeWidth": 4},
 "encoding": {"y": {"field": "q1", "type": "quantitative", "scale": {"domain": [-35, 1511], "nice": false, "zero": false}, "axis": {"title": "Erosivity (MJ mm ha⁻¹ hr⁻¹)", "values": [0,500,1000,1500], "format": "d"}}, "y2": {"field": "q3"},
  "color": {"field": "Gauge", "type": "nominal", "scale": {"domain": ["Up","Down"], "range": ["#F99F99","#4CD2D5"]}, "legend": {"title": "Gauge"}}}},
{"data": {"name": "boxes"}, "transform": [{"filter": "datum.panel === 'ero'"}], "mark": {"type": "tick", "color": "#333333", "thickness": 10, "size": 150, "orient": "horizontal"},
 "encoding": {"y": {"field": "median", "type": "quantitative", "scale": {"domain": [-35, 1511], "nice": false, "zero": false}, "axis": {"title": "Erosivity (MJ mm ha⁻¹ hr⁻¹)", "values": [0,500,1000,1500], "format": "d"}}}},
{"data": {"name": "points"}, "transform": [{"filter": "datum.panel === 'ero'"}], "mark": {"type": "point", "filled": true, "size": 260, "opacity": 0.6},
 "encoding": {"y": {"field": "value", "type": "quantitative", "scale": {"domain": [-35, 1511], "nice": false, "zero": false}, "axis": {"title": "Erosivity (MJ mm ha⁻¹ hr⁻¹)", "values": [0,500,1000,1500], "format": "d"}},
  "fill": {"field": "Gauge", "type": "nominal", "scale": {"domain": ["Up","Down"], "range": ["#F8766D","#00BFC4"]}, "legend": null}}}
]
},
{
"width": 1677, "height": 1031,
"encoding": {
"x": {"field": "Season", "type": "nominal", "sort": ["Spring","Summer","Fall","Winter"], "scale": {"paddingInner": 0.25, "paddingOuter": 0.225}, "axis": {"title": "Season", "labelAngle": 0}},
"xOffset": {"field": "Gauge", "type": "nominal", "sort": ["Up","Down"], "scale": {"paddingInner": 0, "paddingOuter": 0}}
},
"layer": [
{"data": {"name": "boxes"}, "transform": [{"filter": "datum.panel === 'tp'"}], "mark": {"type": "rule", "color": "#333333", "strokeWidth": 4},
 "encoding": {"y": {"field": "lower", "type": "quantitative", "scale": {"domain": [-0.035, 1.003], "nice": false, "zero": false}, "axis": {"title": "Time to Peak (Tp)", "values": [0,0.25,0.5,0.75,1], "format": ".2f"}}, "y2": {"field": "upper"}}},
{"data": {"name": "boxes"}, "transform": [{"filter": "datum.panel === 'tp'"}], "mark": {"type": "bar", "stroke": "#333333", "strokeWidth": 4},
 "encoding": {"y": {"field": "q1", "type": "quantitative", "scale": {"domain": [-0.035, 1.003], "nice": false, "zero": false}, "axis": {"title": "Time to Peak (Tp)", "values": [0,0.25,0.5,0.75,1], "format": ".2f"}}, "y2": {"field": "q3"},
  "color": {"field": "Gauge", "type": "nominal", "scale": {"domain": ["Up","Down"], "range": ["#F99F99","#4CD2D5"]}, "legend": {"title": "Gauge"}}}},
{"data": {"name": "boxes"}, "transform": [{"filter": "datum.panel === 'tp'"}], "mark": {"type": "tick", "color": "#333333", "thickness": 10, "size": 150, "orient": "horizontal"},
 "encoding": {"y": {"field": "median", "type": "quantitative", "scale": {"domain": [-0.035, 1.003], "nice": false, "zero": false}, "axis": {"title": "Time to Peak (Tp)", "values": [0,0.25,0.5,0.75,1], "format": ".2f"}}}},
{"data": {"name": "points"}, "transform": [{"filter": "datum.panel === 'tp'"}], "mark": {"type": "point", "filled": true, "size": 260, "opacity": 0.6},
 "encoding": {"y": {"field": "value", "type": "quantitative", "scale": {"domain": [-0.035, 1.003], "nice": false, "zero": false}, "axis": {"title": "Time to Peak (Tp)", "values": [0,0.25,0.5,0.75,1], "format": ".2f"}},
  "fill": {"field": "Gauge", "type": "nominal", "scale": {"domain": ["Up","Down"], "range": ["#F8766D","#00BFC4"]}, "legend": null}}}
]
},
{
"width": 1677, "height": 1031,
"encoding": {
"x": {"field": "Season", "type": "nominal", "sort": ["Spring","Summer","Fall","Winter"], "scale": {"paddingInner": 0.25, "paddingOuter": 0.225}, "axis": {"title": "Season", "labelAngle": 0}},
"xOffset": {"field": "Gauge", "type": "nominal", "sort": ["Up","Down"], "scale": {"paddingInner": 0, "paddingOuter": 0}}
},
"layer": [
{"data": {"name": "boxes"}, "transform": [{"filter": "datum.panel === 'ip'"}], "mark": {"type": "rule", "color": "#333333", "strokeWidth": 4},
 "encoding": {"y": {"field": "lower", "type": "quantitative", "scale": {"domain": [1.37, 48.2], "nice": false, "zero": false}, "axis": {"title": "Intensity Peakedness Index (Ip)", "values": [10,20,30,40], "format": "d"}}, "y2": {"field": "upper"}}},
{"data": {"name": "boxes"}, "transform": [{"filter": "datum.panel === 'ip'"}], "mark": {"type": "bar", "stroke": "#333333", "strokeWidth": 4},
 "encoding": {"y": {"field": "q1", "type": "quantitative", "scale": {"domain": [1.37, 48.2], "nice": false, "zero": false}, "axis": {"title": "Intensity Peakedness Index (Ip)", "values": [10,20,30,40], "format": "d"}}, "y2": {"field": "q3"},
  "color": {"field": "Gauge", "type": "nominal", "scale": {"domain": ["Up","Down"], "range": ["#F99F99","#4CD2D5"]}, "legend": {"title": "Gauge"}}}},
{"data": {"name": "boxes"}, "transform": [{"filter": "datum.panel === 'ip'"}], "mark": {"type": "tick", "color": "#333333", "thickness": 10, "size": 150, "orient": "horizontal"},
 "encoding": {"y": {"field": "median", "type": "quantitative", "scale": {"domain": [1.37, 48.2], "nice": false, "zero": false}, "axis": {"title": "Intensity Peakedness Index (Ip)", "values": [10,20,30,40], "format": "d"}}}},
{"data": {"name": "points"}, "transform": [{"filter": "datum.panel === 'ip'"}], "mark": {"type": "point", "filled": true, "size": 260, "opacity": 0.6},
 "encoding": {"y": {"field": "value", "type": "quantitative", "scale": {"domain": [1.37, 48.2], "nice": false, "zero": false}, "axis": {"title": "Intensity Peakedness Index (Ip)", "values": [10,20,30,40], "format": "d"}},
  "fill": {"field": "Gauge", "type": "nominal", "scale": {"domain": ["Up","Down"], "range": ["#F8766D","#00BFC4"]}, "legend": null}}}
]
}
],
"config": {
"font": "Liberation Sans",
"view": {"stroke": "#333333", "strokeWidth": 3},
"axis": {"labelFont": "Liberation Sans", "titleFont": "Liberation Sans", "labelFontSize": 43, "titleFontSize": 52, "labelColor": "#4D4D4D", "titleColor": "#000000", "titleFontWeight": "normal", "tickColor": "#333333", "tickWidth": 2.5, "tickSize": 10, "domain": false, "grid": false},
"axisX": {"labelPadding": 8, "titlePadding": 10},
"axisY": {"labelPadding": 6, "titlePadding": 18, "minExtent": 110, "maxExtent": 110},
"legend": {"orient": "none", "legendX": 1495, "legendY": 3670, "direction": "horizontal", "titleOrient": "left", "titleFontSize": 52, "titleFontWeight": "normal", "titleColor": "#000000", "titleFont": "Liberation Sans", "titleBaseline": "middle", "titlePadding": 40, "labelFontSize": 43, "labelFont": "Liberation Sans", "labelColor": "#000000", "labelOffset": 32, "symbolType": "square", "symbolSize": 3100, "symbolStrokeColor": "#333333", "symbolStrokeWidth": 3, "symbolOpacity": 1, "columnPadding": 36}
}
}
